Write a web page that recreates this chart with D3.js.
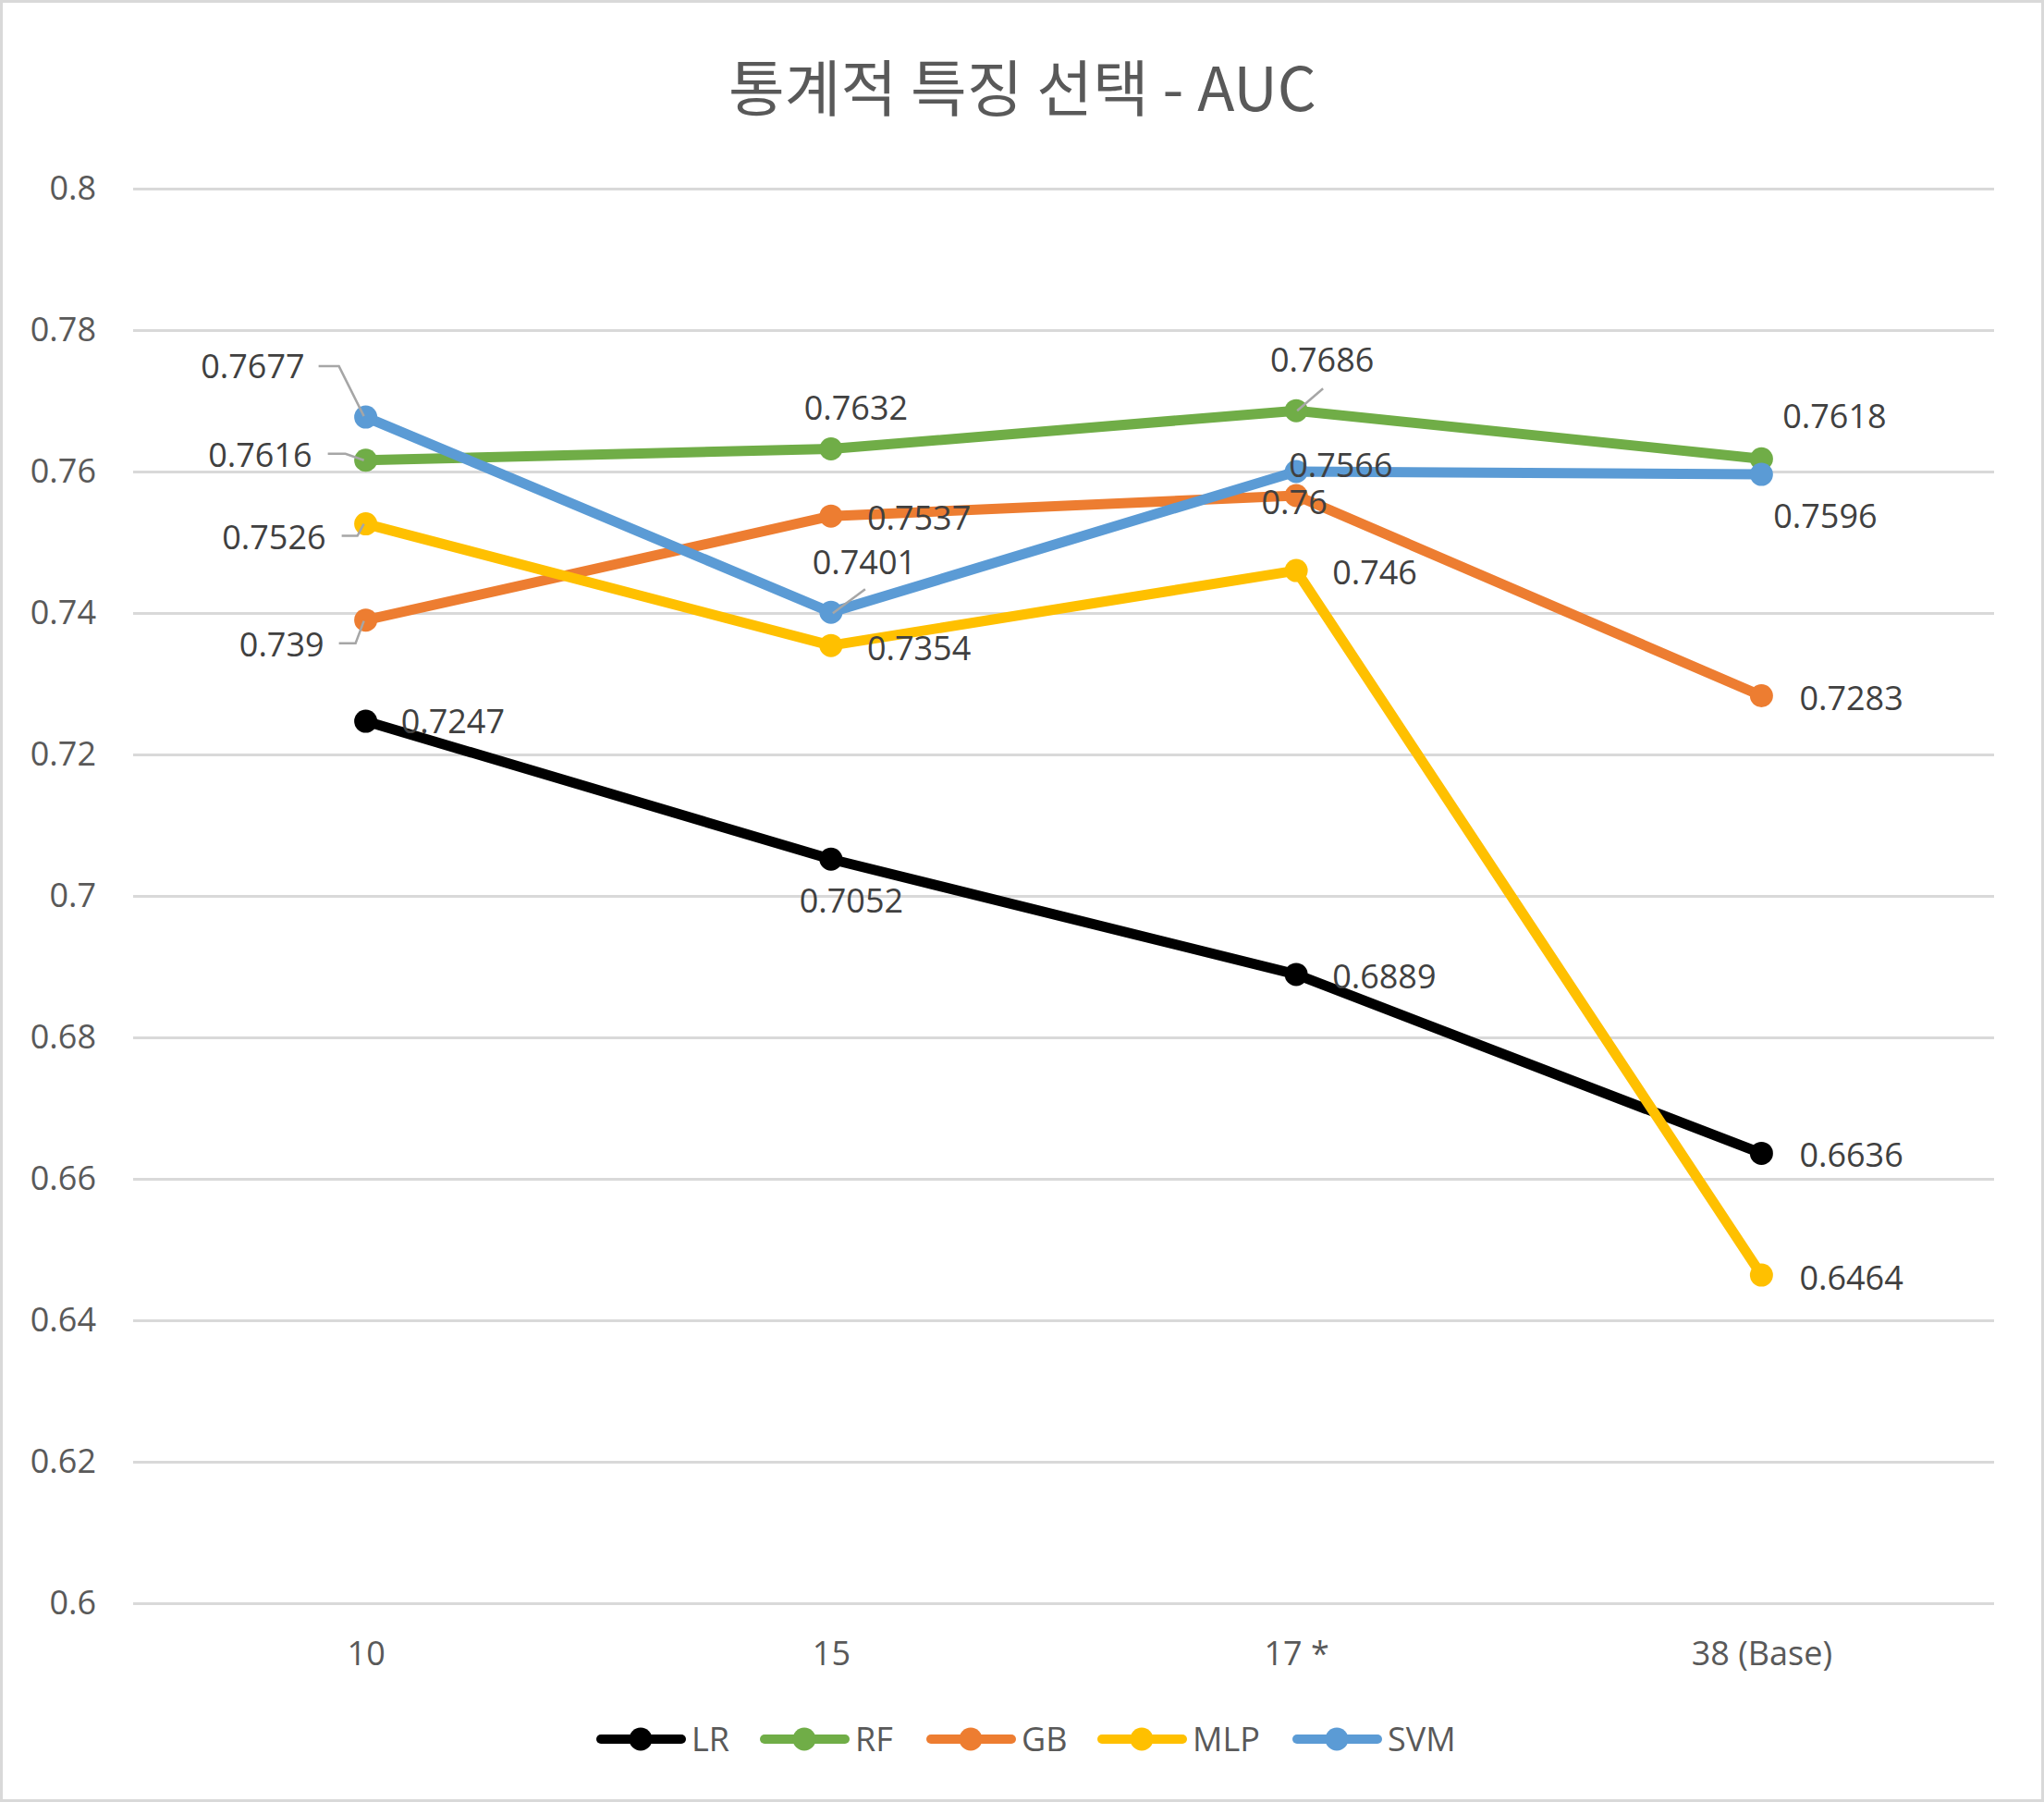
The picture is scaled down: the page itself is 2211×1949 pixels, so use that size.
<!DOCTYPE html>
<html><head><meta charset="utf-8">
<script src="https://cdn.jsdelivr.net/npm/d3@7"></script>
<style>
html,body{margin:0;padding:0;background:#fff;}
svg{display:block;}
</style></head>
<body>
<script>
// ---- data ----
const categories = ["10", "15", "17 *", "38 (Base)"];
const seriesNames = ["LR", "RF", "GB", "MLP", "SVM"];
const lrValues  = [0.7247, 0.7052, 0.6889, 0.6636];
const rfValues  = [0.7616, 0.7632, 0.7686, 0.7618];
const gbValues  = [0.739, 0.7537, 0.7566, 0.7283];
const mlpValues = [0.7526, 0.7354, 0.746, 0.6464];
const svmValues = [0.7677, 0.7401, 0.76, 0.7596];
const yTickValues = [0.6, 0.62, 0.64, 0.66, 0.68, 0.7, 0.72, 0.74, 0.76, 0.78, 0.8];
const titleText = "통계적 특징 선택 - AUC";

// ---- styles / layout ----
const W = 2211, H = 1949;
const colors = {LR:"#000000", RF:"#70AD47", GB:"#ED7D31", MLP:"#FFC000", SVM:"#5B9BD5"};
const valuesBySeries = {LR:lrValues, RF:rfValues, GB:gbValues, MLP:mlpValues, SVM:svmValues};
const FONT = "'Open Sans', 'Noto Sans', sans-serif";
const FS = 36;
// label offsets [dx, dy(center), anchor]
const labelLayout = {
  LR:  [[38,0,"start"],[22,45,"middle"],[39,2,"start"],[41,2,"start"]],
  RF:  [[-58,-6,"end"],[27,-45,"middle"],[28,-55,"middle"],[79,-46,"middle"]],
  GB:  [[-45,26,"end"],[39,2,"start"],[-8,-33,"start"],[41,2,"start"]],
  MLP: [[-43,14,"end"],[39,3,"start"],[39,2,"start"],[41,3,"start"]],
  SVM: [[-66,-55,"end"],[36,-54,"middle"],[-2,33,"middle"],[69,45,"middle"]]
};
// leader lines relative to the point
const leaders = [
  {s:"SVM", i:0, pts:[[-51,-55],[-29,-55],[-2,-1]]},
  {s:"RF",  i:0, pts:[[-41,-7],[-22,-7],[-2,0]]},
  {s:"MLP", i:0, pts:[[-26,13],[-9,13],[-2,0]]},
  {s:"GB",  i:0, pts:[[-29,25],[-11,25],[-2,1]]},
  {s:"SVM", i:1, pts:[[37,-25],[2,1]]},
  {s:"RF",  i:2, pts:[[29,-24],[1,0]]}
];

const svg = d3.select("body").append("svg").attr("width", W).attr("height", H);
svg.append("rect").attr("x",1.5).attr("y",1.5).attr("width",W-3).attr("height",H-3)
  .attr("fill","#fff").attr("stroke","#D9D9D9").attr("stroke-width",3);

const x = d3.scalePoint().domain(categories).range([144, 2157]).padding(0.5);
const y = d3.scaleLinear().domain([0.6, 0.8]).range([1734, 204]);

// title
svg.append("text").attr("x", 1106).attr("y", 120).attr("text-anchor","middle")
  .attr("font-family","'Noto Sans CJK KR', sans-serif").attr("font-size",66)
  .attr("fill","#595959").text(titleText);

// gridlines + y labels via axis
const yAxis = d3.axisLeft(y).tickValues(yTickValues).tickSize(-(2157-144)).tickPadding(40)
  .tickFormat(d => String(+d.toFixed(2)));
const gy = svg.append("g").attr("transform","translate(144,0)").call(yAxis);
gy.select(".domain").remove();
gy.selectAll(".tick line").attr("stroke","#D9D9D9").attr("stroke-width",3);
gy.selectAll(".tick text").attr("font-family",FONT).attr("font-size",FS).attr("fill","#595959");

// x labels
const xAxis = d3.axisBottom(x).tickSize(0).tickPadding(0);
const gx = svg.append("g").attr("transform","translate(0,1734)").call(xAxis);
gx.select(".domain").remove();
gx.selectAll(".tick text").attr("font-family",FONT).attr("font-size",FS).attr("fill","#595959")
  .attr("dy",null).attr("y",67);

// lines
const line = d3.line().x((d,i)=>x(categories[i])).y(d=>y(d));
const gl = svg.append("g");
seriesNames.forEach(s => {
  const vals = valuesBySeries[s];
  gl.append("path").datum(vals).attr("d", line).attr("fill","none")
    .attr("stroke", colors[s]).attr("stroke-width",11).attr("stroke-linejoin","round").attr("stroke-linecap","round");
  gl.selectAll(null).data(vals).enter().append("circle")
    .attr("cx",(d,i)=>x(categories[i])).attr("cy",d=>y(d)).attr("r",12.5).attr("fill",colors[s]);
});

// leader lines
leaders.forEach(L => {
  const px = x(categories[L.i]), py = y(valuesBySeries[L.s][L.i]);
  svg.append("polyline").attr("points", L.pts.map(p=>[px+p[0],py+p[1]].join(",")).join(" "))
    .attr("fill","none").attr("stroke","#A6A6A6").attr("stroke-width",2.5);
});

// data labels
seriesNames.forEach(s => {
  const vals = valuesBySeries[s];
  svg.append("g").selectAll("text").data(vals).enter().append("text")
    .attr("x",(d,i)=>x(categories[i]) + labelLayout[s][i][0])
    .attr("y",(d,i)=>y(d) + labelLayout[s][i][1] + 13)
    .attr("text-anchor",(d,i)=>labelLayout[s][i][2])
    .attr("font-family",FONT).attr("font-size",FS).attr("fill","#404040")
    .text(d=>String(d));
});

// legend
const legendX = [645, 822, 1002, 1187, 1398];
const legendY = 1881;
const lg = svg.append("g");
seriesNames.forEach((s,k) => {
  const x0 = legendX[k];
  lg.append("line").attr("x1",x0+5).attr("x2",x0+92).attr("y1",legendY).attr("y2",legendY)
    .attr("stroke",colors[s]).attr("stroke-width",10).attr("stroke-linecap","round");
  lg.append("circle").attr("cx",x0+48).attr("cy",legendY).attr("r",12.5).attr("fill",colors[s]);
  lg.append("text").attr("x",x0+103).attr("y",legendY+13).attr("font-family",FONT).attr("font-size",FS)
    .attr("fill","#595959").text(s);
});
</script>
</body></html>
